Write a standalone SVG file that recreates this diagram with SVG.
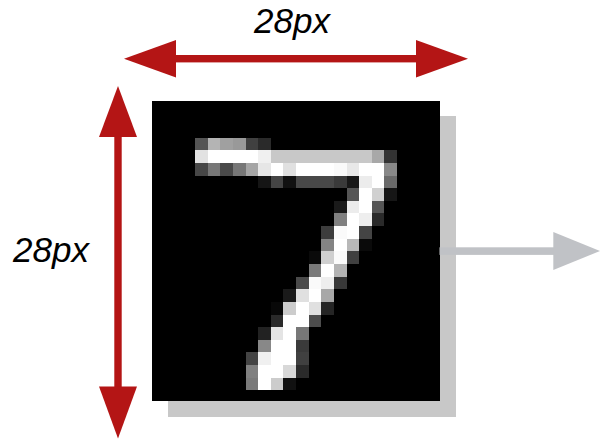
<svg xmlns="http://www.w3.org/2000/svg" width="600" height="439" viewBox="0 0 600 439">
<style>
.lbl{font-family:"Liberation Sans",Arial,sans-serif;font-style:italic;font-size:35px;fill:#000;text-anchor:middle}
.red{fill:#b41515}
.gray{fill:#c0c2c6}
</style>
<rect width="600" height="439" fill="#fff"/>
<g id="image">
<rect x="168" y="116" width="288" height="301" fill="#c8c8c8"/>
<rect x="152" y="101" width="288" height="300" fill="#000"/>
<g id="pixels" transform="translate(195,137.7) scale(12.63)" shape-rendering="crispEdges">
<rect x="0" y="0" width="1" height="1" fill="#555"/><rect x="1" y="0" width="1" height="1" fill="#b4b4b4"/><rect x="2" y="0" width="1" height="1" fill="#a0a0a0"/><rect x="3" y="0" width="1" height="1" fill="#999"/><rect x="4" y="0" width="1" height="1" fill="#404040"/><rect x="5" y="0" width="1" height="1" fill="#2a2a2a"/>
<rect x="0" y="1" width="1" height="1" fill="#e2e2e2"/><rect x="1" y="1" width="4" height="1" fill="#fff"/><rect x="5" y="1" width="1" height="1" fill="#f0f0f0"/><rect x="6" y="1" width="8" height="1" fill="#c8c8c8"/><rect x="14" y="1" width="1" height="1" fill="#a8a8a8"/><rect x="15" y="1" width="1" height="1" fill="#333"/>
<rect x="0" y="2" width="1" height="1" fill="#474747"/><rect x="1" y="2" width="1" height="1" fill="#777"/><rect x="2" y="2" width="1" height="1" fill="#4a4a4a"/><rect x="3" y="2" width="1" height="1" fill="#777"/><rect x="4" y="2" width="1" height="1" fill="#a5a5a5"/><rect x="5" y="2" width="1" height="1" fill="#e6e6e6"/><rect x="6" y="2" width="1" height="1" fill="#fff"/><rect x="7" y="2" width="1" height="1" fill="#e0e0e0"/><rect x="8" y="2" width="3" height="1" fill="#fff"/><rect x="11" y="2" width="1" height="1" fill="#fafafa"/><rect x="12" y="2" width="1" height="1" fill="#e8e8e8"/><rect x="13" y="2" width="2" height="1" fill="#fff"/><rect x="15" y="2" width="1" height="1" fill="#888"/>
<rect x="5" y="3" width="1" height="1" fill="#151515"/><rect x="6" y="3" width="1" height="1" fill="#444"/><rect x="7" y="3" width="1" height="1" fill="#111"/><rect x="8" y="3" width="3" height="1" fill="#484848"/><rect x="11" y="3" width="1" height="1" fill="#3a3a3a"/><rect x="12" y="3" width="1" height="1" fill="#181818"/><rect x="13" y="3" width="1" height="1" fill="#ececec"/><rect x="14" y="3" width="1" height="1" fill="#fff"/><rect x="15" y="3" width="1" height="1" fill="#6a6a6a"/>
<rect x="12" y="4" width="1" height="1" fill="#555"/><rect x="13" y="4" width="1" height="1" fill="#fff"/><rect x="14" y="4" width="1" height="1" fill="#d0d0d0"/><rect x="15" y="4" width="1" height="1" fill="#161616"/>
<rect x="11" y="5" width="1" height="1" fill="#1a1a1a"/><rect x="12" y="5" width="1" height="1" fill="#ececec"/><rect x="13" y="5" width="1" height="1" fill="#fff"/><rect x="14" y="5" width="1" height="1" fill="#555"/>
<rect x="11" y="6" width="1" height="1" fill="#808080"/><rect x="12" y="6" width="1" height="1" fill="#fff"/><rect x="13" y="6" width="1" height="1" fill="#eee"/><rect x="14" y="6" width="1" height="1" fill="#2a2a2a"/>
<rect x="10" y="7" width="1" height="1" fill="#3d3d3d"/><rect x="11" y="7" width="1" height="1" fill="#fafafa"/><rect x="12" y="7" width="1" height="1" fill="#fff"/><rect x="13" y="7" width="1" height="1" fill="#444"/>
<rect x="10" y="8" width="1" height="1" fill="#848484"/><rect x="11" y="8" width="1" height="1" fill="#fff"/><rect x="12" y="8" width="1" height="1" fill="#b8b8b8"/><rect x="13" y="8" width="1" height="1" fill="#0a0a0a"/>
<rect x="9" y="9" width="1" height="1" fill="#0a0a0a"/><rect x="10" y="9" width="1" height="1" fill="#cfcfcf"/><rect x="11" y="9" width="1" height="1" fill="#fafafa"/><rect x="12" y="9" width="1" height="1" fill="#404040"/>
<rect x="9" y="10" width="1" height="1" fill="#7a7a7a"/><rect x="10" y="10" width="1" height="1" fill="#fff"/><rect x="11" y="10" width="1" height="1" fill="#b3b3b3"/>
<rect x="8" y="11" width="1" height="1" fill="#4a4a4a"/><rect x="9" y="11" width="1" height="1" fill="#fafafa"/><rect x="10" y="11" width="1" height="1" fill="#eee"/><rect x="11" y="11" width="1" height="1" fill="#383838"/>
<rect x="7" y="12" width="1" height="1" fill="#1a1a1a"/><rect x="8" y="12" width="1" height="1" fill="#e0e0e0"/><rect x="9" y="12" width="1" height="1" fill="#fff"/><rect x="10" y="12" width="1" height="1" fill="#a8a8a8"/>
<rect x="6" y="13" width="1" height="1" fill="#080808"/><rect x="7" y="13" width="1" height="1" fill="#ccc"/><rect x="8" y="13" width="1" height="1" fill="#fff"/><rect x="9" y="13" width="1" height="1" fill="#e0e0e0"/><rect x="10" y="13" width="1" height="1" fill="#252525"/>
<rect x="6" y="14" width="1" height="1" fill="#2a2a2a"/><rect x="7" y="14" width="2" height="1" fill="#fff"/><rect x="9" y="14" width="1" height="1" fill="#4d4d4d"/>
<rect x="5" y="15" width="1" height="1" fill="#222"/><rect x="6" y="15" width="1" height="1" fill="#e4e4e4"/><rect x="7" y="15" width="1" height="1" fill="#fff"/><rect x="8" y="15" width="1" height="1" fill="#777"/>
<rect x="5" y="16" width="1" height="1" fill="#888"/><rect x="6" y="16" width="2" height="1" fill="#fff"/><rect x="8" y="16" width="1" height="1" fill="#3a3a3a"/>
<rect x="4" y="17" width="1" height="1" fill="#444"/><rect x="5" y="17" width="1" height="1" fill="#f0f0f0"/><rect x="6" y="17" width="2" height="1" fill="#fff"/><rect x="8" y="17" width="1" height="1" fill="#404040"/>
<rect x="4" y="18" width="1" height="1" fill="#808080"/><rect x="5" y="18" width="2" height="1" fill="#fff"/><rect x="7" y="18" width="1" height="1" fill="#d8d8d8"/><rect x="8" y="18" width="1" height="1" fill="#2a2a2a"/>
<rect x="4" y="19" width="1" height="1" fill="#7a7a7a"/><rect x="5" y="19" width="1" height="1" fill="#fff"/><rect x="6" y="19" width="1" height="1" fill="#ccc"/><rect x="7" y="19" width="1" height="1" fill="#111"/>
</g>
</g>
<g id="connectors">
<g id="width-arrow" class="red">
<rect x="175" y="55" width="242" height="7.4"/>
<polygon points="124,58.7 176,40 176,77.4"/>
<polygon points="468,58.7 416,40 416,77.4"/>
</g>
<g id="height-arrow" class="red">
<rect x="114.3" y="136" width="7.4" height="251"/>
<polygon points="118,86 99,137 137,137"/>
<polygon points="118,438.5 99,386.5 137,386.5"/>
</g>
<g id="output-arrow" class="gray">
<rect x="439.5" y="247.3" width="115" height="7.6"/>
<polygon points="600,251 553.3,232 553.3,270"/>
</g>
</g>
<g id="label-width"><text class="lbl" x="292" y="33">28px</text></g>
<g id="label-height"><text class="lbl" x="51" y="262">28px</text></g>
</svg>
